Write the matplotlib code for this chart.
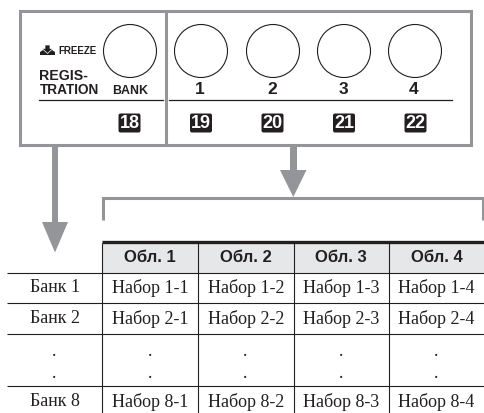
import matplotlib
matplotlib.use('Agg')
import matplotlib.pyplot as plt
from matplotlib.patches import Circle, FancyBboxPatch, Polygon, Rectangle

# Table content
col_headers = ['Обл. 1', 'Обл. 2', 'Обл. 3', 'Обл. 4']
row_labels = ['Банк 1', 'Банк 2', 'Банк 8']
row_numbers = [1, 2, 8]
button_labels = ['1', '2', '3', '4']
button_badges = ['19', '20', '21', '22']
bank_badge = '18'

gray = '#939598'
ink = '#231f20'
serif = 'Liberation Serif'
sans = 'Liberation Sans'

fig = plt.figure(figsize=(4.84, 4.13), dpi=100)
ax = fig.add_axes([0, 0, 1, 1])
ax.set_xlim(0, 484)
ax.set_ylim(413, 0)
ax.set_axis_off()

# ---- panel frame ----
ax.add_patch(Rectangle((20, 11), 451, 134, fill=False, edgecolor=gray, linewidth=2.2))
ax.plot([165.5, 165.5], [11, 145], color=gray, lw=2.2, solid_capstyle='butt')

# ---- buttons ----
btn_x = [201, 273, 344, 415]
ax.add_patch(Circle((130, 51), 26.5, fill=False, edgecolor=ink, linewidth=0.8))
for x, label in zip(btn_x, button_labels):
    ax.add_patch(Circle((x, 51), 26.5, fill=False, edgecolor=ink, linewidth=0.8))
    ax.text(x - 1, 90, label, ha='center', va='center', fontsize=12.5, fontweight='bold',
            family=sans, color=ink)

def draw_badge(x, text):
    ax.add_patch(FancyBboxPatch((x - 9.5, 115), 19, 16, boxstyle='round,pad=1.5,rounding_size=2',
                                facecolor=ink, edgecolor='none'))
    ax.text(x, 123.5, text, ha='center', va='center', fontsize=13, fontweight='bold',
            family=sans, color='white')

draw_badge(129.5, bank_badge)
for x, badge in zip([201, 272.5, 344, 415.5], button_badges):
    draw_badge(x, badge)

ax.plot([39, 163], [100, 100], color=ink, lw=0.9)
ax.plot([169, 452], [100, 100], color=ink, lw=0.9)

# ---- labels on the left part ----
ax.add_patch(Polygon([(40, 55), (40, 52), (43, 50), (52, 50), (55, 52), (55, 55)],
                     facecolor=ink, edgecolor='none'))
ax.add_patch(Polygon([(45, 45), (50, 45), (50, 48.5), (53, 48.5), (47.5, 53.5), (42, 48.5), (45, 48.5)],
                     facecolor=ink, edgecolor='white', linewidth=0.5))
ax.text(58, 51.5, 'FREEZE', ha='left', va='center', fontsize=7, fontweight='bold', family=sans, color=ink)
ax.text(39.5, 76, 'REGIS-', ha='left', va='center', fontsize=10.2, fontweight='bold', family=sans, color=ink)
ax.text(39.5, 90, 'TRATION', ha='left', va='center', fontsize=9.8, fontweight='bold', family=sans, color=ink)
ax.text(130, 91, 'BANK', ha='center', va='center', fontsize=8.9, fontweight='bold', family=sans, color=ink)

# ---- arrows ----
ax.add_patch(Rectangle((52, 147), 6, 75, facecolor=gray, edgecolor='none'))
ax.add_patch(Polygon([(42, 222), (68, 222), (55, 252.5)], facecolor=gray, edgecolor='none'))
ax.add_patch(Rectangle((290, 147), 7, 24, facecolor=gray, edgecolor='none'))
ax.add_patch(Polygon([(280, 170), (306.5, 170), (293.3, 197)], facecolor=gray, edgecolor='none'))

# ---- bracket ----
ax.plot([103, 103, 483, 483], [220, 198, 198, 220], color=gray, lw=2.2,
        solid_joinstyle='miter', solid_capstyle='butt')

# ---- table ----
col_x = [102, 198, 293.5, 389, 484]
y_rows = [273, 303, 334, 386, 413]
ax.add_patch(Rectangle((102, 242), 382, 31, facecolor='#e6e7e8', edgecolor='none'))
ax.plot([102, 484], [242, 242], color=ink, lw=2.4, solid_capstyle='butt')
for y in y_rows[:-1]:
    ax.plot([7, 484], [y, y], color=ink, lw=0.8, solid_capstyle='butt')
for x in col_x[:-1]:
    ax.plot([x, x], [243, 413], color=ink, lw=0.8, solid_capstyle='butt')

for i, head in enumerate(col_headers):
    ax.text((col_x[i] + col_x[i + 1]) / 2, 257, head, ha='center', va='center', fontsize=12,
            fontweight='bold', family=sans, color=ink)

row_y = [288, 318.5, 402]
for y, label, n in zip(row_y, row_labels, row_numbers):
    ax.text(55, y, label, ha='center', va='center', fontsize=13, family=serif, color=ink)
    for j in range(4):
        ax.text((col_x[j] + col_x[j + 1]) / 2, y, 'Набор %d-%d' % (n, j + 1), ha='center', va='center',
                fontsize=13, family=serif, color=ink)

# dots standing in for the omitted rows
dot_x = [54.5, 150, 245.5, 341, 436.5]
for x in dot_x:
    ax.text(x, 352, '.', ha='center', va='center', fontsize=13, family=serif, color=ink)
    ax.text(x, 373, '.', ha='center', va='center', fontsize=13, family=serif, color=ink)

plt.savefig('out.png', dpi=100)
